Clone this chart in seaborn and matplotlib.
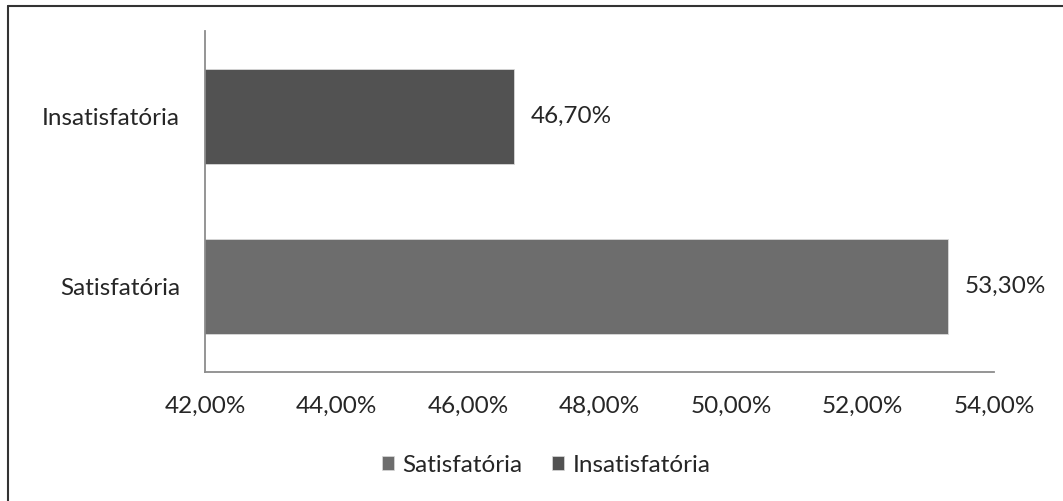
import matplotlib
matplotlib.use("Agg")
import matplotlib.pyplot as plt
import matplotlib.ticker as mticker
from matplotlib.lines import Line2D
from matplotlib.patches import Patch
import seaborn as sns
import pandas as pd

categories = ["Insatisfatória", "Satisfatória"]
values = [46.70, 53.30]
legend_order = ["Satisfatória", "Insatisfatória"]
colors = {"Satisfatória": "#6d6d6d", "Insatisfatória": "#525252"}
xticks = [42, 44, 46, 48, 50, 52, 54]

sns.set_theme(style="white")
plt.rcParams["font.family"] = ["Lato", "DejaVu Sans"]
text_color = "#262626"
fs = 17.5

df = pd.DataFrame({"cat": categories, "val": values})

fig = plt.figure(figsize=(10.63, 5.01), dpi=100)
ax = fig.add_axes([205/1063, 1-372/501, (994-205)/1063, (372-31)/501])

sns.barplot(data=df, y="cat", x="val", hue="cat", order=categories,
            hue_order=legend_order, palette=colors, dodge=False,
            width=0.56, orient="h", ax=ax, legend=False,
            edgecolor="#d9d9d9", linewidth=0.6)

ax.set_xlim(42, 54)
ax.set_ylim(1.5, -0.5)
ax.set_xticks(xticks)
ax.xaxis.set_major_formatter(mticker.FuncFormatter(lambda v, p: f"{v:.2f}%".replace(".", ",")))
ax.set_xlabel("")
ax.set_ylabel("")
ax.tick_params(axis="both", length=0, labelsize=fs, colors=text_color)
ax.tick_params(axis="x", pad=17)
ax.tick_params(axis="y", pad=18)
for s in ["top", "right"]:
    ax.spines[s].set_visible(False)
for s in ["left", "bottom"]:
    ax.spines[s].set_color("#8c8c8c")
    ax.spines[s].set_linewidth(1.3)

for i, (c, v) in enumerate(zip(categories, values)):
    ax.annotate(f"{v:.2f}%".replace(".", ","), xy=(v, i), xytext=(17, 0),
                textcoords="offset pixels",
                va="center", ha="left", fontsize=fs, color=text_color)

handles = [Patch(facecolor=colors[c], edgecolor="#d9d9d9", linewidth=0.5) for c in legend_order]
fig.legend(handles, legend_order, loc="center", bbox_to_anchor=(546/1063, 1-465/501),
           ncol=2, frameon=False, fontsize=fs, handlelength=0.5, handleheight=0.5,
           handletextpad=0.35, columnspacing=1.2, labelcolor=text_color)

# outer frame lines (left and top)
fig.add_artist(Line2D([7.5/1063, 7.5/1063], [0, 1-6/501], transform=fig.transFigure, color="#333333", lw=1.5))
fig.add_artist(Line2D([7.5/1063, 1], [1-6/501, 1-6/501], transform=fig.transFigure, color="#333333", lw=1.5))

fig.savefig("out.png", dpi=100)
